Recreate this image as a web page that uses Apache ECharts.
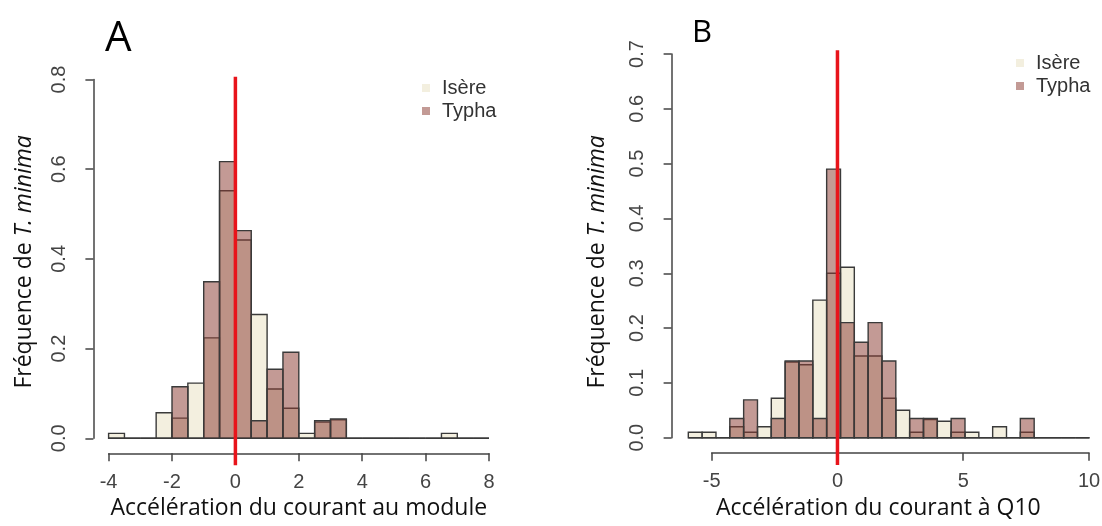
<!DOCTYPE html>
<html>
<head>
<meta charset="utf-8">
<script src="https://cdn.jsdelivr.net/npm/echarts@6/dist/echarts.min.js"></script>
<style>
html,body{margin:0;padding:0;background:#fff;}
#c{width:1102px;height:526px;}
</style>
</head>
<body>
<div id="c"></div>
<script>
// ---------- DATA ----------
const seriesNames = ['Isère', 'Typha'];

// Panel A : Accélération du courant au module
const breaksA = [-4, -3.5, -3, -2.5, -2, -1.5, -1, -0.5, 0, 0.5, 1, 1.5, 2, 2.5, 3, 3.5, 4, 4.5, 5, 5.5, 6, 6.5, 7, 7.5, 8];
const isereA  = [0.011, 0, 0, 0.057, 0.045, 0.123, 0.224, 0.552, 0.442, 0.276, 0.110, 0.067, 0.011, 0.036, 0.041, 0, 0, 0, 0, 0, 0, 0.011, 0, 0];
const typhaA  = [0, 0, 0, 0, 0.115, 0, 0.349, 0.617, 0.463, 0.039, 0.154, 0.192, 0, 0.039, 0.043, 0, 0, 0, 0, 0, 0, 0, 0, 0];
const xTicksA = [-4, -2, 0, 2, 4, 6, 8];
const yTicksA = [0, 0.2, 0.4, 0.6, 0.8];
const refLineA = { x: 0, y: [-0.06, 0.806] };

// Panel B : Accélération du courant à Q10
const breaksB = [-5.93, -5.38, -4.83, -4.28, -3.73, -3.18, -2.63, -2.08, -1.53, -0.98, -0.43, 0.12, 0.67, 1.22, 1.77, 2.32, 2.87, 3.42, 3.97, 4.52, 5.07, 5.62, 6.17, 6.72, 7.27, 7.82, 8.37, 8.92, 9.47, 10.02];
const isereB  = [0.010, 0.010, 0, 0.020, 0.010, 0.020, 0.072, 0.138, 0.133, 0.251, 0.300, 0.311, 0.149, 0.149, 0.072, 0.050, 0.010, 0.033, 0.030, 0.010, 0.010, 0, 0.020, 0, 0.010, 0, 0, 0, 0];
const typhaB  = [0, 0, 0, 0.035, 0.069, 0, 0.035, 0.140, 0.140, 0.035, 0.490, 0.210, 0.174, 0.210, 0.140, 0, 0.035, 0.035, 0, 0.035, 0, 0, 0, 0, 0.035, 0, 0, 0, 0];
const xTicksB = [-5, 0, 5, 10];
const yTicksB = [0, 0.1, 0.2, 0.3, 0.4, 0.5, 0.6, 0.7];
const refLineB = { x: 0, y: [-0.05, 0.707] };

// ---------- STYLE ----------
const fillIsere = 'rgba(233,226,196,0.55)';
const fillTypha = 'rgba(140,62,52,0.52)';
const barStroke = '#3a3a3a';
const axisColor = '#444';
const labelFont = 'Liberation Sans, Arial, sans-serif';
const titleFont = 'Open Sans, Noto Sans, sans-serif';

function binData(breaks, vals) {
  return vals.map((v, i) => [breaks[i], breaks[i + 1], v]);
}

function histSeries(name, breaks, vals, fill, gi) {
  return {
    type: 'custom',
    name: name,
    xAxisIndex: gi, yAxisIndex: gi,
    clip: false,
    silent: true,
    itemStyle: { color: fill },
    encode: { x: [0, 1], y: 2 },
    data: binData(breaks, vals),
    renderItem: function (params, api) {
      const p0 = api.coord([api.value(0), 0]);
      const p1 = api.coord([api.value(1), api.value(2)]);
      return {
        type: 'rect',
        shape: { x: p0[0], y: p1[1], width: p1[0] - p0[0], height: p0[1] - p1[1] },
        style: { fill: fill, stroke: barStroke, lineWidth: 1.4 }
      };
    }
  };
}

function refSeries(ref, gi) {
  return {
    type: 'line',
    xAxisIndex: gi, yAxisIndex: gi,
    clip: false, silent: true,
    symbol: 'none',
    lineStyle: { color: '#e8141b', width: 3.5 },
    data: [[ref.x, ref.y[0]], [ref.x, ref.y[1]]],
    z: 5
  };
}

function xAxisCfg(gi, ticks, name, nameShift) {
  return {
    gridIndex: gi, type: 'value',
    min: ticks[0], max: ticks[ticks.length - 1], interval: ticks[1] - ticks[0],
    offset: 15,
    axisLine: { show: true, onZero: false, lineStyle: { color: axisColor, width: 1.5 } },
    axisTick: { show: true, length: 8, lineStyle: { color: axisColor, width: 1.5 } },
    axisLabel: { margin: 19, fontFamily: labelFont, fontSize: 20, color: '#444' },
    splitLine: { show: false },
    name: name, nameLocation: 'middle', nameGap: 35,
    nameTextStyle: { fontFamily: titleFont, fontSize: 23, color: '#111', padding: [0, nameShift, 0, 0] }
  };
}

function yAxisCfg(gi, ticks, offset, nameGap, shift) {
  return {
    gridIndex: gi, type: 'value',
    min: ticks[0], max: ticks[ticks.length - 1], interval: +(ticks[1] - ticks[0]).toFixed(3),
    offset: offset,
    axisLine: { show: true, onZero: false, lineStyle: { color: axisColor, width: 1.5 } },
    axisTick: { show: true, length: 8, lineStyle: { color: axisColor, width: 1.5 } },
    axisLabel: { rotate: 90, margin: 24, fontFamily: labelFont, fontSize: 20, color: '#444',
      formatter: v => v.toFixed(1) },
    splitLine: { show: false },
    name: '{a|Fréquence de }{b|T. minima}',
    nameLocation: 'middle', nameRotate: 90, nameGap: nameGap,
    nameTextStyle: {
      padding: [0, shift, 0, 0],
      rich: {
        a: { fontFamily: titleFont, fontSize: 23, color: '#111' },
        b: { fontFamily: titleFont, fontSize: 23, color: '#111', fontStyle: 'italic' }
      }
    }
  };
}

function legendCfg(left, top) {
  return {
    data: seriesNames.map((n, i) => ({ name: n, itemStyle: { color: i === 0 ? fillIsere : fillTypha, borderWidth: 0 } })),
    left: left, top: top, orient: 'vertical', icon: 'rect',
    itemWidth: 8, itemHeight: 8, itemGap: 3, padding: 0,
    selectedMode: false,
    textStyle: { fontFamily: labelFont, fontSize: 20, color: '#333', padding: [0, 0, 0, 7] }
  };
}

const chart = echarts.init(document.getElementById('c'), null, { renderer: 'canvas' });
chart.setOption({
  backgroundColor: '#fff',
  animation: false,
  title: [
    { text: 'A', left: 105, top: 18, padding: 0, textStyle: { fontFamily: titleFont, fontSize: 42, fontWeight: 'normal', color: '#000' } },
    { text: 'B', left: 692, top: 18, padding: 0, textStyle: { fontFamily: titleFont, fontSize: 31, fontWeight: 'normal', color: '#000' } }
  ],
  legend: [legendCfg(422, 78), legendCfg(1016, 53)],
  grid: [
    { left: 108.6, top: 79.5, width: 380.4, height: 358.8, outerBoundsMode: 'none', containLabel: false },
    { left: 711.7, top: 54, width: 377.3, height: 383.7, outerBoundsMode: 'none', containLabel: false }
  ],
  xAxis: [
    xAxisCfg(0, xTicksA, 'Accélération du courant au module', 0),
    xAxisCfg(1, xTicksB, 'Accélération du courant à Q10', 44)
  ],
  yAxis: [
    yAxisCfg(0, yTicksA, 15.2, 57, 6),
    yAxisCfg(1, yTicksB, 40.1, 63, 32)
  ],
  series: [
    histSeries(seriesNames[0], breaksA, isereA, fillIsere, 0),
    histSeries(seriesNames[1], breaksA, typhaA, fillTypha, 0),
    refSeries(refLineA, 0),
    histSeries(seriesNames[0], breaksB, isereB, fillIsere, 1),
    histSeries(seriesNames[1], breaksB, typhaB, fillTypha, 1),
    refSeries(refLineB, 1)
  ]
});
</script>
</body>
</html>
